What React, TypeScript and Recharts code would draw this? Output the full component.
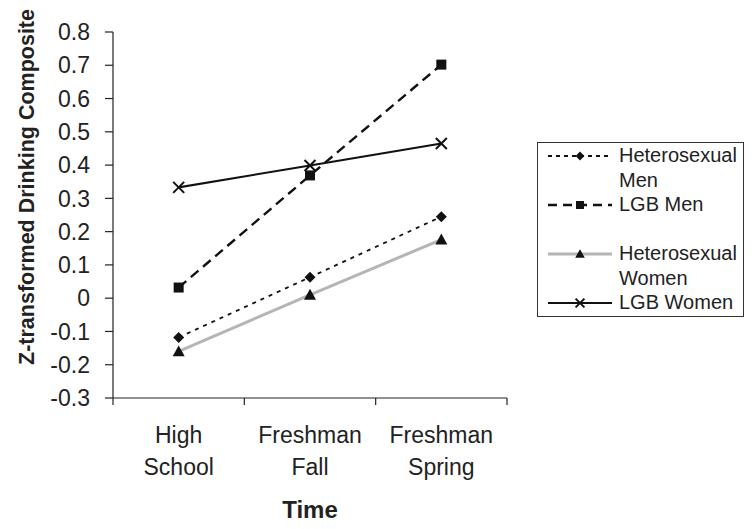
import React from "react";
import {
  LineChart,
  Line,
  XAxis,
  YAxis,
  Legend,
  Label,
} from "recharts";

// values
const timePoints = ["High School", "Freshman Fall", "Freshman Spring"];
const timeLabelLines = [
  ["High", "School"],
  ["Freshman", "Fall"],
  ["Freshman", "Spring"],
];
const heteroMen = [-0.118, 0.063, 0.245];
const lgbMen = [0.032, 0.369, 0.702];
const heteroWomen = [-0.16, 0.01, 0.176];
const lgbWomen = [0.333, 0.399, 0.465];
const yTicks = [-0.3, -0.2, -0.1, 0, 0.1, 0.2, 0.3, 0.4, 0.5, 0.6, 0.7, 0.8];
const xTicks = [0, 0.5, 1, 1.5, 2, 2.5, 3];

const FONT = '"Liberation Sans", Arial, sans-serif';
const INK = "#222";

// each time point sits in the middle of its own unit slot on the x axis
const data = timePoints.map((name, i) => ({
  slot: i + 0.5,
  name,
  heteroMen: heteroMen[i],
  lgbMen: lgbMen[i],
  heteroWomen: heteroWomen[i],
  lgbWomen: lgbWomen[i],
}));

type Shape = "diamond" | "square" | "triangle" | "cross";

function Marker({ shape, cx, cy, s = 1 }: { shape: Shape; cx: number; cy: number; s?: number }) {
  if (shape === "diamond") {
    const r = 5.5 * s;
    return <path d={`M${cx},${cy - r}L${cx + r},${cy}L${cx},${cy + r}L${cx - r},${cy}Z`} fill="#111" />;
  }
  if (shape === "square") {
    const r = 5 * s;
    return <rect x={cx - r} y={cy - r} width={2 * r} height={2 * r} fill="#111" />;
  }
  if (shape === "triangle") {
    const r = 6 * s;
    return <path d={`M${cx},${cy - r}L${cx + r},${cy + r * 0.8}L${cx - r},${cy + r * 0.8}Z`} fill="#111" />;
  }
  const r = 5.5 * s;
  return (
    <path
      d={`M${cx - r},${cy - r}L${cx + r},${cy + r}M${cx - r},${cy + r}L${cx + r},${cy - r}`}
      stroke="#111"
      strokeWidth={2}
      fill="none"
    />
  );
}

const series = [
  { key: "heteroMen", legend: ["Heterosexual", "Men"], color: "#111", width: 1.8, dash: "4 5", legendDash: "4 4", shape: "diamond" as Shape },
  { key: "lgbMen", legend: ["LGB Men"], color: "#111", width: 2.4, dash: "10 6", legendDash: "9 6", shape: "square" as Shape },
  { key: "heteroWomen", legend: ["Heterosexual", "Women"], color: "#b5b5b5", width: 3, dash: undefined, legendDash: undefined, shape: "triangle" as Shape },
  { key: "lgbWomen", legend: ["LGB Women"], color: "#111", width: 2.1, dash: undefined, legendDash: undefined, shape: "cross" as Shape },
];

const TimeTick = (props: any) => {
  const { x, y, payload } = props;
  const v = payload.value;
  if (Number.isInteger(v)) {
    return <line x1={x} x2={x} y1={y} y2={y + 7} stroke={INK} strokeWidth={1.2} />;
  }
  const lines = timeLabelLines[Math.floor(v)];
  return (
    <text x={x} y={y} textAnchor="middle" fontSize={23} fontFamily={FONT} fill={INK}>
      {lines.map((l, k) => (
        <tspan key={k} x={x} dy={k === 0 ? 45 : 32}>
          {l}
        </tspan>
      ))}
    </text>
  );
};

const LegendBox = () => (
  <div
    style={{
      width: 207,
      height: 175,
      border: "1px solid #333",
      boxSizing: "border-box",
      fontFamily: FONT,
      fontSize: 20,
      color: INK,
      background: "#fff",
    }}
  >
    {series.map((s) => (
      <div key={s.key} style={{ display: "flex", height: 49, alignItems: "flex-start" }}>
        <svg width={81} height={25} style={{ flex: "none" }}>
          <line
            x1={10}
            x2={74}
            y1={13}
            y2={13}
            stroke={s.color}
            strokeWidth={s.width}
            strokeDasharray={s.legendDash}
          />
          <Marker shape={s.shape} cx={42} cy={13} s={0.8} />
        </svg>
        <div style={{ lineHeight: "25px", whiteSpace: "nowrap" }}>
          {s.legend.map((l) => (
            <div key={l}>{l}</div>
          ))}
        </div>
      </div>
    ))}
  </div>
);

export default function App() {
  return (
    <div style={{ position: "absolute", left: 0, top: 0, background: "#fff" }}>
      <LineChart
        width={754}
        height={529}
        data={data}
        margin={{ top: 32, right: 247, bottom: 0, left: 0 }}
      >
        <XAxis
          dataKey="slot"
          type="number"
          domain={[0, 3]}
          ticks={xTicks}
          interval={0}
          tickLine={false}
          tickSize={0}
          tickMargin={0}
          tick={<TimeTick />}
          height={131}
          axisLine={{ stroke: INK, strokeWidth: 1.2 }}
        >
          <Label
            value="Time"
            position="insideBottom"
            offset={11}
            style={{ fontFamily: FONT, fontSize: 24, fontWeight: "bold", fill: INK }}
          />
        </XAxis>
        <YAxis
          type="number"
          domain={[-0.3, 0.8]}
          ticks={yTicks}
          interval={0}
          width={113}
          tickSize={8}
          tickMargin={15}
          tickFormatter={(v: number) => (v === 0 ? "0" : v.toFixed(1))}
          tick={{ fontFamily: FONT, fontSize: 23, fill: INK }}
          tickLine={{ stroke: INK, strokeWidth: 1.2 }}
          axisLine={{ stroke: INK, strokeWidth: 1.2 }}
        >
          <Label
            content={() => (
              <text
                transform="translate(34,187) rotate(-90)"
                textAnchor="middle"
                fontFamily={FONT}
                fontSize={21.5}
                fontWeight="bold"
                fill={INK}
              >
                Z-transformed Drinking Composite
              </text>
            )}
          />
        </YAxis>
        {series.map((s) => (
          <Line
            key={s.key}
            dataKey={s.key}
            type="linear"
            stroke={s.color}
            strokeWidth={s.width}
            strokeDasharray={s.dash}
            isAnimationActive={false}
            dot={(p: any) => (
              <Marker key={`${s.key}-${p.index}`} shape={s.shape} cx={p.cx} cy={p.cy} />
            )}
            activeDot={false}
          />
        ))}
        <Legend
          layout="horizontal"
          verticalAlign="middle"
          align="center"
          wrapperStyle={{ left: 537, top: 142, width: 207, height: 175 }}
          content={() => <LegendBox />}
        />
      </LineChart>
    </div>
  );
}
